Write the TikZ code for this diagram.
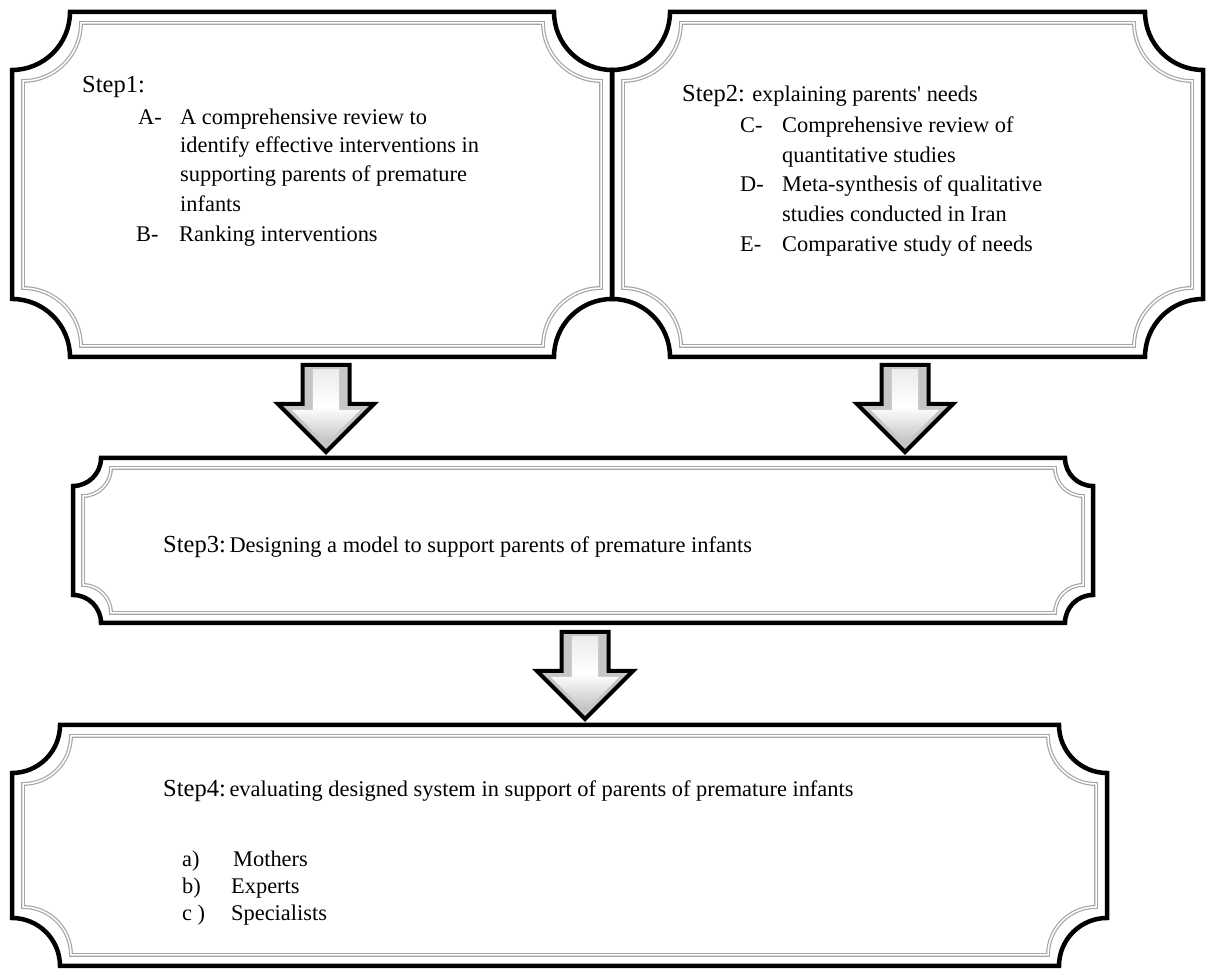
\documentclass[tikz,border=0pt]{standalone}
\usepackage{fontspec}
\setmainfont{Liberation Serif}
\usetikzlibrary{positioning,shapes.arrows,calc}

\newcommand\stepfont{\fontsize{24.5}{29}\selectfont}
% frame with hollow corners: node, radius, inset, style
\newcommand\stepframe[4]{%
  \draw[#4] ($(#1.north west)+(#2+#3,-#3)$) -- ($(#1.north east)+(-#2-#3,-#3)$)
    arc[start angle=180,end angle=270,radius=#2]
    -- ($(#1.south east)+(-#3,#2+#3)$)
    arc[start angle=90,end angle=180,radius=#2]
    -- ($(#1.south west)+(#2+#3,#3)$)
    arc[start angle=0,end angle=90,radius=#2]
    -- ($(#1.north west)+(#3,-#2-#3)$)
    arc[start angle=270,end angle=360,radius=#2] -- cycle;}

\begin{document}
\begin{tikzpicture}[
    x=1pt, y=1pt,
    stepbox/.style={rectangle, inner sep=0pt, outer sep=0pt},
    frameout/.style={draw=black, line width=4.5pt},
    framein/.style={draw=gray!70, line width=1.2pt, double=white, double distance=1.5pt},
    txt/.style={anchor=west, inner sep=0pt, font=\fontsize{22.4}{29}\selectfont,
        text height=15pt, text depth=5pt},
    downarrow/.style={single arrow, rotate=-90, anchor=tail, draw=black,
        line width=4pt, fill=gray!45, inner xsep=0pt, inner ysep=21.5pt,
        single arrow head extend=24.5pt, minimum height=87pt},
    arrowface/.style={single arrow, rotate=-90, anchor=tail,
        top color=gray!15, bottom color=gray!50, middle color=white,
        inner xsep=0pt, inner ysep=13pt, single arrow head extend=21pt,
        minimum height=75pt}
]
\useasboundingbox (0,0) rectangle (1210,973);

% Step boxes
\node[stepbox, minimum width=600pt, minimum height=345pt] (s1) at (312,788.5) {};
\node[stepbox, minimum width=591pt, minimum height=345pt] (s2) at (907.5,788.5) {};
\node[stepbox, minimum width=1020pt, minimum height=165pt] (s3) at (583,432.5) {};
\node[stepbox, minimum width=1095pt, minimum height=241pt] (s4) at (559.5,127.5) {};

\stepframe{s1}{58}{0}{frameout}
\stepframe{s1}{58}{11}{framein}
\stepframe{s2}{58}{0}{frameout}
\stepframe{s2}{58}{11}{framein}
\stepframe{s3}{28}{0}{frameout}
\stepframe{s3}{28}{10}{framein}
\stepframe{s4}{48}{0}{frameout}
\stepframe{s4}{48}{11}{framein}

% Arrows between the steps
\node[downarrow] (a12) at (326,610) {};
\node[arrowface] (f12) at (326,604) {};
\node[downarrow] (a23) at (905,610) {};
\node[arrowface] (f23) at (905,604) {};
\node[downarrow] (a34) at (585,343) {};
\node[arrowface] (f34) at (585,337) {};

% Step 1
\node[txt, font=\stepfont] (h1) at (82,885) {Step1:};
\node[txt] (la) at (138,853) {A-};
\node[txt] (ia1) at (180,853) {A comprehensive review to};
\node[txt] (ia2) at (180,825) {identify effective interventions in};
\node[txt] (ia3) at (180,796) {supporting parents of premature};
\node[txt] (ia4) at (180,766) {infants};
\node[txt] (lb) at (136,736) {B-};
\node[txt] (ib1) at (179,736) {Ranking interventions};

% Step 2
\node[txt] (h2) at (682,876) {{\stepfont Step2:} explaining parents\textquotesingle{} needs};
\node[txt] (lc) at (740,845) {C-};
\node[txt] (ic1) at (782,845) {Comprehensive review of};
\node[txt] (ic2) at (782,815) {quantitative studies};
\node[txt] (ld) at (740,786) {D-};
\node[txt] (id1) at (782,786) {Meta-synthesis of qualitative};
\node[txt] (id2) at (782,756) {studies conducted in Iran};
\node[txt] (le) at (740,726) {E-};
\node[txt] (ie1) at (782,726) {Comparative study of needs};

% Step 3
\node[txt] (h3) at (163,425) {{\stepfont Step3:}\,Designing a model to support parents of premature infants};

% Step 4
\node[txt] (h4) at (163,181) {{\stepfont Step4:}\,evaluating designed system in support of parents of premature infants};
\node[txt] (lm) at (182,111) {a)};
\node[txt] (im) at (233,111) {Mothers};
\node[txt] (lx) at (182,84) {b)};
\node[txt] (ix) at (231,84) {Experts};
\node[txt] (ls) at (182,57) {c )};
\node[txt] (is) at (231,57) {Specialists};

\end{tikzpicture}
\end{document}
